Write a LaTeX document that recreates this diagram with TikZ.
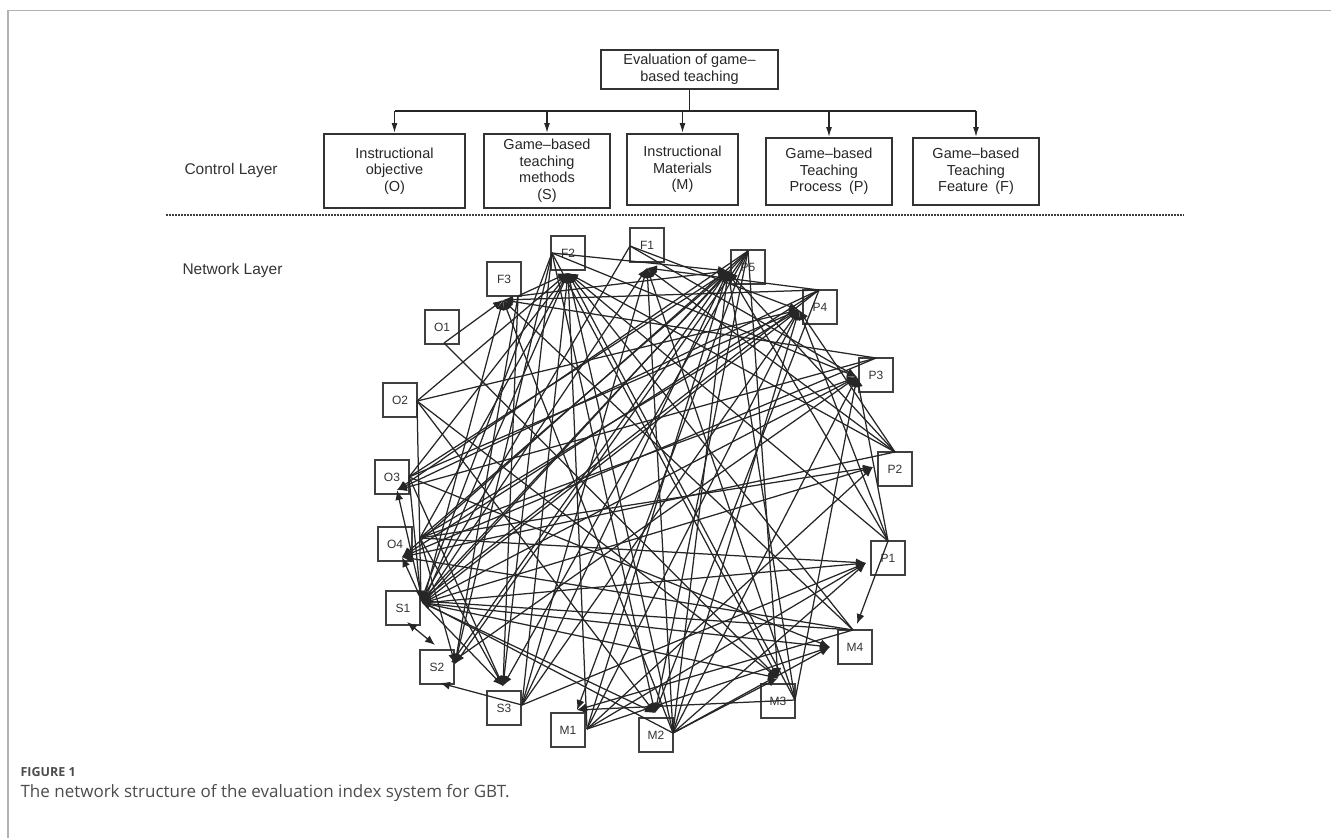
\documentclass[tikz,border=0pt]{standalone}
\usepackage{fontspec}
\setmainfont{Liberation Sans}
\newfontfamily\capfont{Open Sans}
\usetikzlibrary{arrows.meta}
\begin{document}
\begin{tikzpicture}[x=1pt,y=-1pt,
  cbox/.style={draw=black!80, line width=1.6pt, align=center, font=\fontsize{14.5}{16.5}\selectfont, text=black!85, inner sep=0pt, anchor=north},
  nbox/.style={draw=black!75, line width=1.3pt, minimum width=34pt, minimum height=34pt, inner sep=0pt, font=\fontsize{12}{14}\selectfont, text=black!80},
  edge/.style={draw=black!85, line width=1.25pt, -{Latex[length=10pt,width=8pt]}},
  tree/.style={draw=black!85, line width=1.3pt},
  treearrow/.style={tree, -{Latex[length=10pt,width=6pt]}},
  layer/.style={font=\fontsize{15.5}{18}\selectfont, text=black!80, anchor=west}
]
\useasboundingbox (0,0) rectangle (1331,838);
% frame
\draw[black!30, line width=1.5pt] (8,838) -- (8,10.5) -- (1331,10.5);

% hierarchy
\node[cbox, minimum width=177pt, minimum height=39pt] (e) at (689.5,49) {Evaluation of game–\\based teaching};
\node[cbox, minimum width=141pt, minimum height=74pt] (c1) at (394.5,133) {Instructional\\objective\\(O)};
\node[cbox, minimum width=126pt, minimum height=74pt] (c2) at (547,133) {Game–based\\teaching\\methods\\(S)};
\node[cbox, minimum width=111pt, minimum height=71pt] (c3) at (682.5,133) {Instructional\\Materials\\(M)};
\node[cbox, minimum width=126pt, minimum height=67pt] (c4) at (829,137) {Game–based\\Teaching\\Process\enspace(P)};
\node[cbox, minimum width=126pt, minimum height=67pt] (c5) at (976,137) {Game–based\\Teaching\\Feature\enspace(F)};
\coordinate (bus) at (689.5,111);
\draw[tree] (e.south) -- (bus);
\draw[tree] (c1.north |- bus) -- (c5.north |- bus);
\foreach \c in {c1,c2,c3,c4,c5} \draw[treearrow] (\c.north |- bus) -- (\c.north);

\node[layer] (cl) at (181,170) {Control Layer};
\draw[black!75, line width=1.5pt, dash pattern=on 1.5pt off 1.5pt] (166,215) -- (1184,215);
\node[layer] (nl) at (179,270) {Network Layer};

% network nodes
\foreach \n/\x/\y in {F1/647/245, F2/568/253, F3/504/279, P5/748/267, P4/820/307, P3/876/375,
  P2/895/469, P1/888/558, M4/855/647, M3/778/701, M2/656/735, M1/568/730, S3/504/708,
  S2/437/667, S1/403/608, O4/395/544, O3/392/477, O2/400/400, O1/442/327}
  \node[nbox] (\n) at (\x,\y) {\n};

% connection points
\foreach \n/\ox/\oy/\ix/\iy in {F1/630/246/647/268, F2/552/253/568/273, F3/518/296/503/300,
  P5/748/251/728/271, P4/819/290/799/310, P3/876/358/857/377, P2/895/452/873/467,
  P1/888/541/866/563, M4/853/630/830/647, M3/795/700/778/678, M2/673/733/655/713,
  M1/587/729/577/710, S3/522/705/503/686, S2/452/662/455/664, S1/423/603/421/601,
  O4/420/538/402/557, O3/409/477/397/490, O2/417/401/417/401, O1/444/343/444/343}
  { \coordinate (\n-o) at (\ox,\oy); \coordinate (\n-i) at (\ix,\iy); }
\coordinate (M4-t) at (857,624);
\coordinate (S2-b) at (440,683);
\coordinate (S1-b) at (407,622);
\coordinate (S2-t) at (435,645);

% edges
\foreach \s in {O2,O3,O4,S1,S3,M1,M2,M3,M4,P1,P2,F3} \draw[edge] (\s-o) -- (F2-i);
\foreach \s in {O3,O4,S1,S2,S3,M1,M2,M3,P1,P2,F2,F3} \draw[edge] (\s-o) -- (P5-i);
\foreach \s in {O2,O3,O4,S1,S3,M1,M2,P1,P2,F1} \draw[edge] (\s-o) -- (P4-i);
\foreach \s in {O4,S1,S2,M2,M3,P1,F1,F2} \draw[edge] (\s-o) -- (P3-i);
\foreach \s in {S1,S3,M2,M3,P2,P4} \draw[edge] (\s-o) -- (F1-i);
\foreach \s in {O1,S1,M2,M4,P3,P4} \draw[edge] (\s-o) -- (F3-i);
\foreach \s in {O2,O3,F1,F2,P5,P4,M4,M2} \draw[edge] (\s-o) -- (S1-i);
\foreach \s in {O3,O4,S1,F2,F3,P5} \draw[edge] (\s-o) -- (S3-i);
\foreach \s in {O1,O2,S1,M2,F2,P5} \draw[edge] (\s-o) -- (M3-i);
\foreach \s in {S1,P2,P3,P4,P5,M4} \draw[edge] (\s-o) -- (O4-i);
\foreach \s in {S1,S3,M1,M2,O4} \draw[edge] (\s-o) -- (P1-i);
\foreach \s in {S1,M2,M1,O3} \draw[edge] (\s-o) -- (M4-i);
\foreach \s in {O2,S1,F2,P4,P5} \draw[edge] (\s-o) -- (M2-i);
\foreach \s in {O4,F2,F3,P5} \draw[edge] (\s-o) -- (S2-i);
\foreach \s in {S1,P4,P5,P3} \draw[edge] (\s-o) -- (O3-i);
\foreach \s in {S1,O4,M1} \draw[edge] (\s-o) -- (P2-i);
\foreach \s in {M3,M4,P5} \draw[edge] (\s-o) -- (M1-i);
\draw[edge] (P1-o) -- (M4-t);
\draw[edge] (S3-o) -- (S2-b);
\draw[edge, {Latex[length=10pt,width=8pt]}-{Latex[length=10pt,width=8pt]}] (S1-b) -- (S2-t);

% caption
\node[anchor=base west, font=\capfont\bfseries\fontsize{12.5}{14}\selectfont, text=black!70] (fig) at (17,776) {FIGURE 1};
\node[anchor=base west, font=\capfont\fontsize{17}{20}\selectfont, text=black!70] (cap) at (17,797) {The network structure of the evaluation index system for GBT.};
\end{tikzpicture}
\end{document}
